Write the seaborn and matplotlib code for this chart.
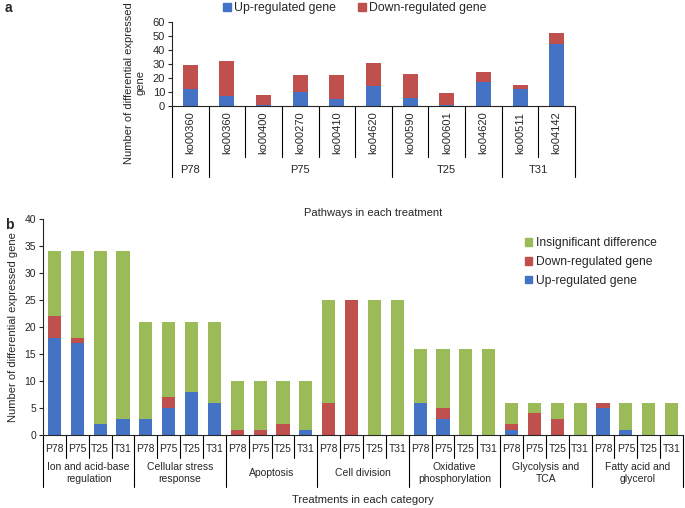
import numpy as np
import pandas as pd
import matplotlib.pyplot as plt
import seaborn as sns
from matplotlib.patches import Patch

# panel a: rutas KEGG por tratamiento
vias_a = ["ko00360", "ko00360", "ko00400", "ko00270", "ko00410", "ko04620",
          "ko00590", "ko00601", "ko04620", "ko00511", "ko04142"]
grupos_a = ["P78", "P75", "T25", "T31"]
n_por_grupo_a = [1, 5, 3, 2]
arriba_a = [12, 7, 1, 10, 5, 14, 6, 1, 17, 12, 44]
abajo_a = [17, 25, 7, 12, 17, 17, 17, 8, 7, 3, 8]

# panel b: tratamientos por categoria
categorias_b = ["Ion and acid-base\nregulation", "Cellular stress\nresponse", "Apoptosis",
                "Cell division", "Oxidative\nphosphorylation", "Glycolysis and\nTCA",
                "Fatty acid and\nglycerol"]
tratamientos_b = ["P78", "P75", "T25", "T31"]
arriba_b = [18, 17, 2, 3,
            3, 5, 8, 6,
            0, 0, 0, 1,
            0, 0, 0, 0,
            6, 3, 0, 0,
            1, 0, 0, 0,
            5, 1, 0, 0]
abajo_b = [4, 1, 0, 0,
           0, 2, 0, 0,
           1, 1, 2, 0,
           6, 25, 0, 0,
           0, 2, 0, 0,
           1, 4, 3, 0,
           1, 0, 0, 0]
total_b = [34, 34, 34, 34,
           21, 21, 21, 21,
           10, 10, 10, 10,
           25, 25, 25, 25,
           16, 16, 16, 16,
           6, 6, 6, 6,
           6, 6, 6, 6]

azul = "#4472C4"
rojo = "#C0504D"
verde = "#9BBB59"

sns.set_style("ticks")
plt.rcParams['font.family'] = ['Liberation Sans', 'DejaVu Sans']
plt.rcParams['axes.linewidth'] = 0.8

W, H = 685, 508
fig = plt.figure(figsize=(W / 100, H / 100), dpi=100)

def caja(x0, y0, x1, y1):
    # pixeles de la imagen -> coordenadas de figura
    return [x0 / W, 1 - y1 / H, (x1 - x0) / W, (y1 - y0) / H]

ax_a = fig.add_axes(caja(172, 22, 575, 106))
ax_b = fig.add_axes(caja(43, 219, 683, 435))

# ---------- panel a ----------
df_a = pd.DataFrame({"pos": np.arange(len(vias_a)), "up": arriba_a,
                     "tot": np.array(arriba_a) + np.array(abajo_a)})
sns.barplot(data=df_a, x="pos", y="tot", color=rojo, saturation=1, width=0.41,
            errorbar=None, ax=ax_a, linewidth=0)
sns.barplot(data=df_a, x="pos", y="up", color=azul, saturation=1, width=0.41,
            errorbar=None, ax=ax_a, linewidth=0)
ax_a.set_xlim(-0.5, len(vias_a) - 0.5)
ax_a.set_ylim(0, 60)
ax_a.set_yticks(range(0, 61, 10))
ax_a.set_xticks([])
ax_a.set_xlabel("")
ax_a.set_ylabel("")
ax_a.tick_params(axis="y", labelsize=8, length=3, width=0.8, pad=2)
sns.despine(ax=ax_a)

tr_a = ax_a.get_xaxis_transform()
alto_a = 84.0
for i, v in enumerate(vias_a):
    ax_a.text(i, -27 / alto_a, v, rotation=90, ha="center", va="center",
              fontsize=8, transform=tr_a, clip_on=False)
limites = np.cumsum([0] + n_por_grupo_a) - 0.5
for k in range(len(vias_a) + 1):
    x = k - 0.5
    largo = -71 / alto_a if x in limites else -51 / alto_a
    ax_a.plot([x, x], [0, largo], color="black", lw=0.8, transform=tr_a, clip_on=False)
for g, n, x0 in zip(grupos_a, n_por_grupo_a, limites[:-1]):
    ax_a.text(x0 + n / 2, -64 / alto_a, g, ha="center", va="center", fontsize=8,
              transform=tr_a, clip_on=False)

fig.text(373 / W, 1 - 213 / H, "Pathways in each treatment", ha="center", va="center", fontsize=8)
fig.text(135 / W, 1 - 83 / H, "Number of differential expressed\ngene", rotation=90,
         ha="center", va="center", fontsize=8, multialignment="center")
fig.legend(handles=[Patch(color=azul, label="Up-regulated gene"),
                    Patch(color=rojo, label="Down-regulated gene")],
           loc="center", bbox_to_anchor=(355 / W, 1 - 8 / H), ncol=2, frameon=False,
           fontsize=8.8, handlelength=0.6, handleheight=0.6, handletextpad=0.3,
           columnspacing=1.8, borderpad=0)
fig.text(5 / W, 1 - 8 / H, "a", fontsize=10, fontweight="bold", va="center")

# ---------- panel b ----------
n_b = len(total_b)
df_b = pd.DataFrame({"pos": np.arange(n_b), "up": arriba_b,
                     "upd": np.array(arriba_b) + np.array(abajo_b), "tot": total_b})
for col, c in [("tot", verde), ("upd", rojo), ("up", azul)]:
    sns.barplot(data=df_b, x="pos", y=col, color=c, saturation=1, width=0.58,
                errorbar=None, ax=ax_b, linewidth=0)
ax_b.set_xlim(-0.5, n_b - 0.5)
ax_b.set_ylim(0, 40)
ax_b.set_yticks(range(0, 41, 5))
ax_b.set_xticks([])
ax_b.set_xlabel("")
ax_b.set_ylabel("")
ax_b.tick_params(axis="y", labelsize=7.5, length=3, width=0.8, pad=2)
sns.despine(ax=ax_b)

tr_b = ax_b.get_xaxis_transform()
alto_b = 216.0
for i in range(n_b):
    ax_b.text(i, -14 / alto_b, tratamientos_b[i % 4], ha="center", va="center",
              fontsize=7.5, transform=tr_b, clip_on=False)
for k in range(n_b + 1):
    x = k - 0.5
    largo = -52 / alto_b if k % 4 == 0 else -23 / alto_b
    ax_b.plot([x, x], [0, largo], color="black", lw=0.8, transform=tr_b, clip_on=False)
for j, cat in enumerate(categorias_b):
    ax_b.text(j * 4 + 1.5, -38 / alto_b, cat, ha="center", va="center", fontsize=7.5,
              transform=tr_b, clip_on=False, linespacing=1.3)

fig.text(363 / W, 1 - 500 / H, "Treatments in each category", ha="center", va="center", fontsize=8)
fig.text(13 / W, 1 - 327 / H, "Number of differential expressed gene", rotation=90,
         ha="center", va="center", fontsize=8)
fig.legend(handles=[Patch(color=verde, label="Insignificant difference"),
                    Patch(color=rojo, label="Down-regulated gene"),
                    Patch(color=azul, label="Up-regulated gene")],
           loc="center left", bbox_to_anchor=(519 / W, 1 - 262 / H), frameon=False,
           fontsize=8.7, handlelength=0.6, handleheight=0.6, handletextpad=0.3,
           labelspacing=0.55, borderpad=0)
fig.text(5 / W, 1 - 225 / H, "b", fontsize=10, fontweight="bold", va="center")

fig.savefig("out.png", dpi=100)
